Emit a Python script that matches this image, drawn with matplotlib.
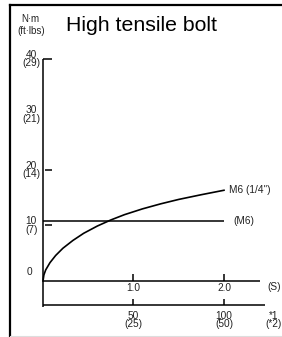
import matplotlib.pyplot as plt
from matplotlib.lines import Line2D

plt.rcParams['font.family'] = ['Liberation Sans', 'DejaVu Sans']

# torque curve M6 (1/4") vs time (S)
curve_s = [0.0, 0.01, 0.03, 0.077, 0.14, 0.22, 0.33, 0.45, 0.6, 0.75,
           0.9, 1.1, 1.3, 1.5, 1.75, 2.0]
curve_nm = [0.0, 1.1, 2.0, 3.3, 4.6, 5.9, 7.3, 8.6, 9.9, 11.0,
            11.95, 13.0, 13.9, 14.7, 15.55, 16.35]
# reference level (M6)
m6_level = 10.8
m6_span = [0.0, 2.0]

y_ticks = [40, 20, 10]
y_labels = {40: "40\n(29)", 30: "30\n(21)", 20: "20\n(14)", 10: "10\n(7)"}
s_ticks = [1.0, 2.0]
s_labels = ["1.0", "2.0"]
blow_ticks = [1.0, 2.0]
blow_labels = ["50\n(25)", "100\n(50)"]

fig = plt.figure(figsize=(2.82, 3.37), dpi=100)
ax = fig.add_axes([0, 0, 1, 1])
ax.set_xlim(-0.475, 2.641)
ax.set_ylim(-10.09, 50.63)
ax.axis('off')

k = dict(color='black', lw=1.1, solid_capstyle='butt')
y2 = -4.32  # second scale line

# axes lines
ax.plot([0, 0], [40, y2 - 0.3], **k)
ax.plot([0, 0.1], [40, 40], **k)
ax.plot([0, 2.4], [0, 0], **k)
ax.plot([0, 2.45], [y2, y2], **k)
for t in y_ticks[1:]:
    ax.plot([0.02, 0.1], [t, t], **k)
for t in s_ticks:
    ax.plot([t, t], [0, 1.3], **k)
for t in blow_ticks:
    ax.plot([t, t], [y2, y2 + 1.0], **k)

# data
ax.plot(m6_span, [m6_level, m6_level], **k)
ax.plot(curve_s, curve_nm, color='black', lw=1.2, solid_joinstyle='round')

fs = 7.3
tc = '#222222'
for v, lab in y_labels.items():
    ax.text(-0.13, v, lab, ha='center', va='center', fontsize=fs, linespacing=0.85, color=tc)
ax.text(-0.155, 1.6, "0", ha='center', va='center', fontsize=fs, color=tc)
ax.text(-0.135, 46.2, "N·m\n(ft·lbs)", ha='center', va='center', fontsize=fs - 0.3,
        linespacing=1.25, color=tc)
for t, lab in zip(s_ticks, s_labels):
    ax.text(t, -0.4, lab, ha='center', va='top', fontsize=fs, color=tc)
ax.text(2.55, -1.1, "(S)", ha='center', va='center', fontsize=fs, color=tc)
for t, lab in zip(blow_ticks, blow_labels):
    ax.text(t, y2 - 1.0, lab, ha='center', va='top', fontsize=fs, linespacing=0.85, color=tc)
ax.text(2.55, y2 - 1.0, "*1\n(*2)", ha='center', va='top', fontsize=fs, linespacing=0.85, color=tc)

ax.text(2.05, 16.4, "M6 (1/4\")", ha='left', va='center', fontsize=fs, color=tc)
ax.text(2.1, m6_level, "(M6)", ha='left', va='center', fontsize=fs, color=tc)

ax.text(1.09, 46.0, "High tensile bolt", ha='center', va='center', fontsize=15.3)

# frame
fig.add_artist(Line2D([9.5 / 282, 9.5 / 282], [0, 1 - 4.5 / 337], color='black', lw=1.6))
fig.add_artist(Line2D([9.5 / 282, 1], [1 - 4.5 / 337, 1 - 4.5 / 337], color='black', lw=1.6))
fig.add_artist(Line2D([9.5 / 282, 1], [1.5 / 337, 1.5 / 337], color='#dddddd', lw=0.8))

fig.savefig('out.png', dpi=100)
